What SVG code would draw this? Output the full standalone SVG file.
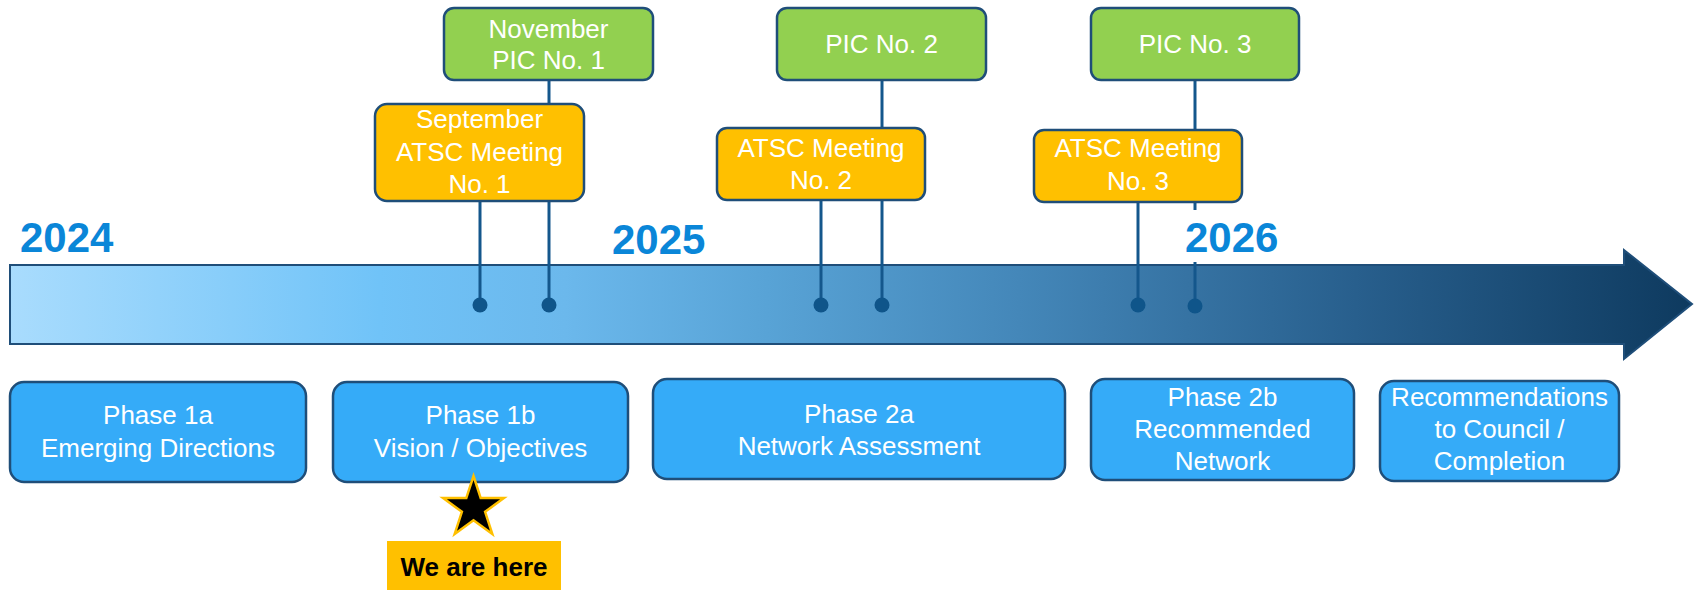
<svg xmlns="http://www.w3.org/2000/svg" width="1694" height="590" viewBox="0 0 1694 590">
<defs>
<linearGradient id="barGrad" gradientUnits="userSpaceOnUse" x1="10" y1="0" x2="1692" y2="0">
<stop offset="0" stop-color="#A9DCFD"/>
<stop offset="0.22" stop-color="#70C3F8"/>
<stop offset="0.33" stop-color="#6BB8EC"/>
<stop offset="0.45" stop-color="#58A3D6"/>
<stop offset="0.6" stop-color="#4487B9"/>
<stop offset="0.8" stop-color="#285F8D"/>
<stop offset="1" stop-color="#0E3A5F"/>
</linearGradient>
</defs>
<style>
.box{stroke:#1F4E79;stroke-width:2.5}
.green{fill:#92D050}
.orange{fill:#FFC000}
.phase{fill:#35ABF8}
.t{font-family:"Liberation Sans",Arial,sans-serif;font-size:26px;fill:#FFFFFF;text-anchor:middle}
.yr{font-family:"Liberation Sans",Arial,sans-serif;font-size:42px;font-weight:bold;fill:#0A86D8}
.ln{stroke:#14578C;stroke-width:3;fill:none}
.dot{fill:#0F558A}
</style>
<rect width="1694" height="590" fill="#FFFFFF"/>
<g id="timeline-arrow">
<path d="M10,265 H1624 V250 L1692,304 L1624,359 V344 H10 Z" fill="url(#barGrad)" stroke="#1F4E79" stroke-width="2"/>
</g>
<g id="years">
<text class="yr" x="20" y="252">2024</text>
<text class="yr" x="612" y="254">2025</text>
<text class="yr" x="1185" y="252">2026</text>
</g>
<g id="connectors">
<line class="ln" x1="480" y1="200" x2="480" y2="305"/>
<line class="ln" x1="549" y1="80" x2="549" y2="305"/>
<line class="ln" x1="821" y1="200" x2="821" y2="305"/>
<line class="ln" x1="882" y1="80" x2="882" y2="305"/>
<line class="ln" x1="1138" y1="202" x2="1138" y2="305"/>
<line class="ln" x1="1195" y1="80" x2="1195" y2="210"/>
<line class="ln" x1="1195" y1="262" x2="1195" y2="306"/>
<circle class="dot" cx="480" cy="305" r="7.5"/>
<circle class="dot" cx="549" cy="305" r="7.5"/>
<circle class="dot" cx="821" cy="305" r="7.5"/>
<circle class="dot" cx="882" cy="305" r="7.5"/>
<circle class="dot" cx="1138" cy="305" r="7.5"/>
<circle class="dot" cx="1195" cy="306" r="7.5"/>
</g>
<g id="pic1">
<rect class="box green" x="444" y="8" width="209" height="72" rx="10"/>
<text class="t" x="548.5" y="37.5">November</text>
<text class="t" x="548.5" y="69">PIC No. 1</text>
</g>
<g id="atsc1">
<rect class="box orange" x="375" y="104" width="209" height="97" rx="12"/>
<text class="t" x="479.5" y="128">September</text>
<text class="t" x="479.5" y="161">ATSC Meeting</text>
<text class="t" x="479.5" y="193">No. 1</text>
</g>
<g id="pic2">
<rect class="box green" x="777" y="8" width="209" height="72" rx="10"/>
<text class="t" x="881.5" y="53">PIC No. 2</text>
</g>
<g id="atsc2">
<rect class="box orange" x="717" y="128" width="208" height="72" rx="10"/>
<text class="t" x="821" y="157">ATSC Meeting</text>
<text class="t" x="821" y="189">No. 2</text>
</g>
<g id="pic3">
<rect class="box green" x="1091" y="8" width="208" height="72" rx="10"/>
<text class="t" x="1195" y="53">PIC No. 3</text>
</g>
<g id="atsc3">
<rect class="box orange" x="1034" y="130" width="208" height="72" rx="10"/>
<text class="t" x="1138" y="157">ATSC Meeting</text>
<text class="t" x="1138" y="190">No. 3</text>
</g>
<g id="phase1a">
<rect class="box phase" x="10" y="382" width="296" height="100" rx="14"/>
<text class="t" x="158" y="424">Phase 1a</text>
<text class="t" x="158" y="457">Emerging Directions</text>
</g>
<g id="phase1b">
<rect class="box phase" x="333" y="382" width="295" height="100" rx="14"/>
<text class="t" x="480.5" y="424">Phase 1b</text>
<text class="t" x="480.5" y="457">Vision / Objectives</text>
</g>
<g id="phase2a">
<rect class="box phase" x="653" y="379" width="412" height="100" rx="14"/>
<text class="t" x="859" y="423">Phase 2a</text>
<text class="t" x="859" y="455">Network Assessment</text>
</g>
<g id="phase2b">
<rect class="box phase" x="1091" y="379" width="263" height="101" rx="14"/>
<text class="t" x="1222.5" y="406">Phase 2b</text>
<text class="t" x="1222.5" y="438">Recommended</text>
<text class="t" x="1222.5" y="470">Network</text>
</g>
<g id="completion">
<rect class="box phase" x="1380" y="381" width="239" height="100" rx="14"/>
<text class="t" x="1499.5" y="406">Recommendations</text>
<text class="t" x="1499.5" y="438">to Council /</text>
<text class="t" x="1499.5" y="470">Completion</text>
</g>
<g id="we-are-here">
<polygon points="473.5,476 480.7,498.1 503.9,498.1 485.1,511.8 492.3,533.9 473.5,520.2 454.7,533.9 461.9,511.8 443.1,498.1 466.3,498.1" fill="#000000" stroke="#FFC000" stroke-width="2.5" stroke-linejoin="miter"/>
<rect x="387" y="541" width="174" height="49" fill="#FFC000"/>
<text x="474" y="576" font-family="'Liberation Sans',Arial,sans-serif" font-size="26" font-weight="bold" fill="#000000" text-anchor="middle">We are here</text>
</g>
</svg>
